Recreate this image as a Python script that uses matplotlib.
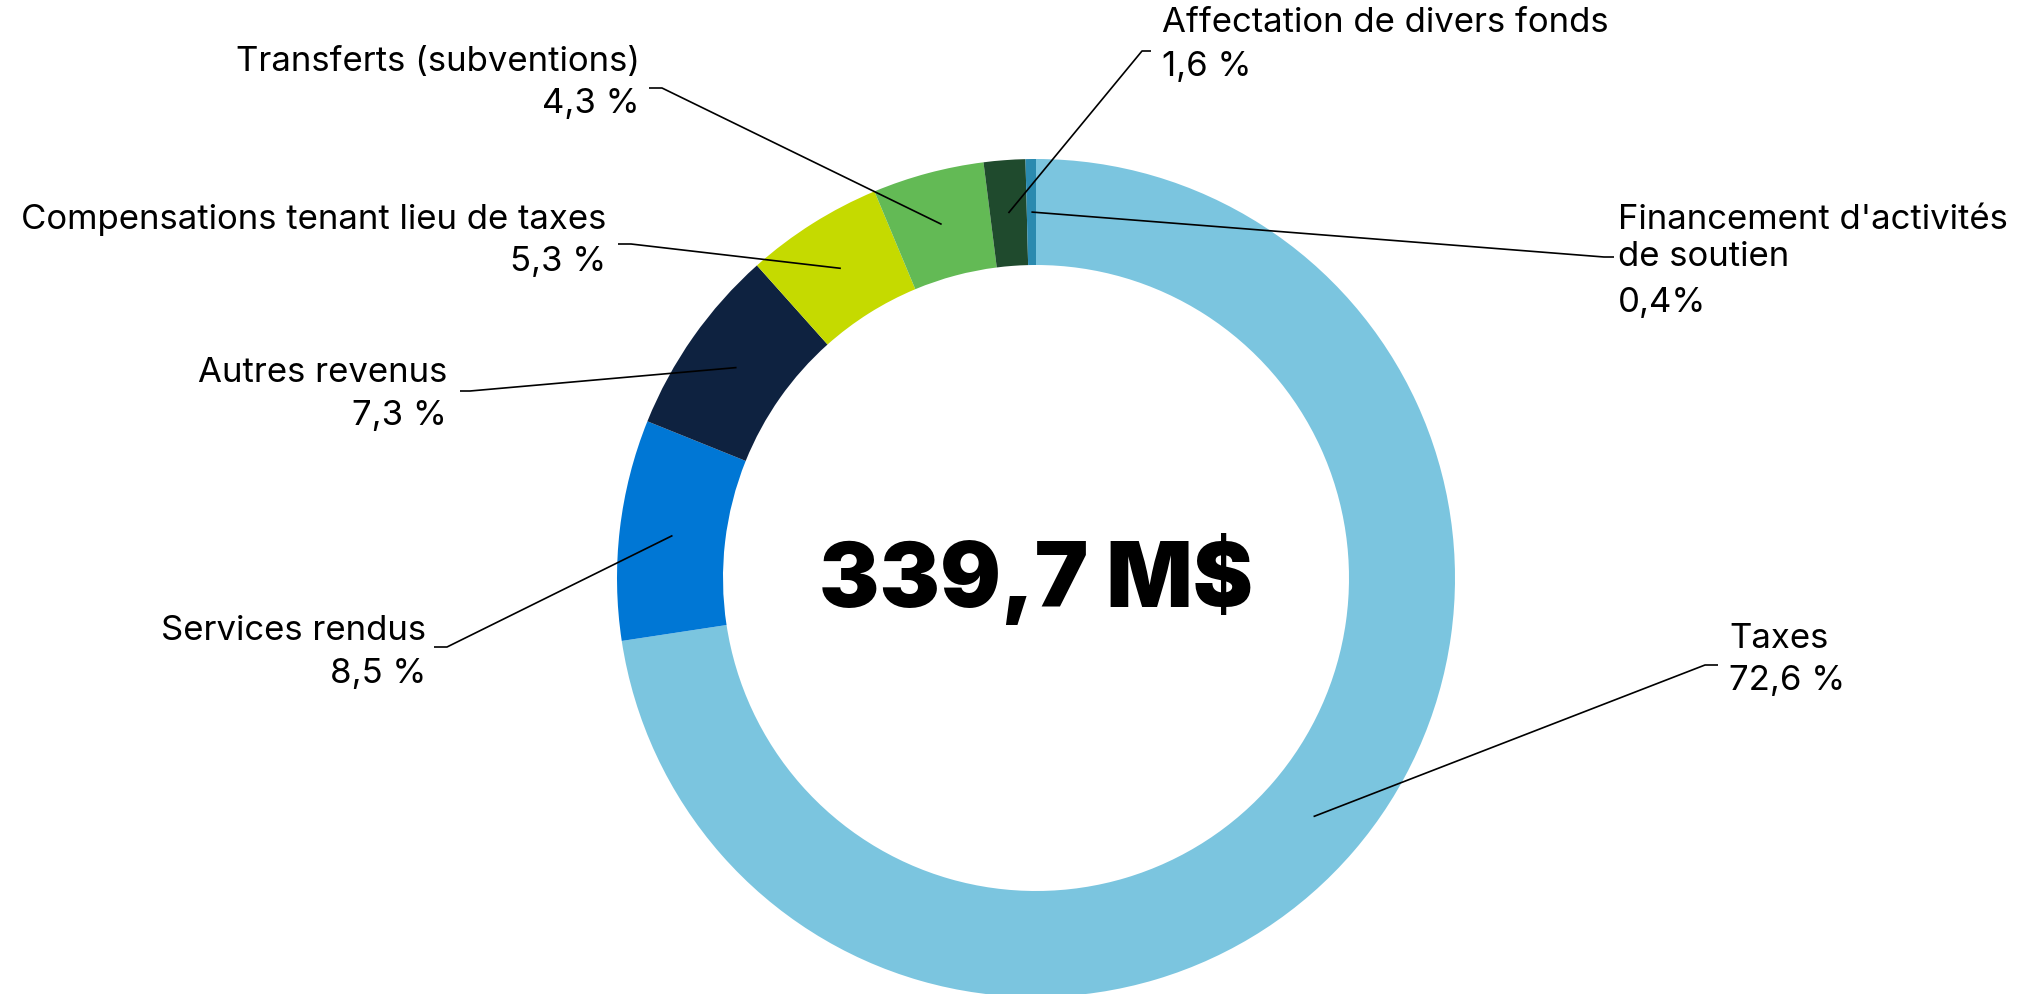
import numpy as np
import matplotlib.pyplot as plt

W, H = 2031, 995

categories = ["Taxes", "Services rendus", "Autres revenus",
              "Compensations tenant lieu de taxes", "Transferts (subventions)",
              "Affectation de divers fonds", "Financement d'activités\nde soutien"]
values = [72.6, 8.5, 7.3, 5.3, 4.3, 1.6, 0.4]
pct_labels = ["72,6 %", "8,5 %", "7,3 %", "5,3 %", "4,3 %", "1,6 %", "0,4%"]
colors = ["#7BC5DF", "#0077D5", "#0E2240", "#C5DA00", "#63BA55", "#1F4A2D", "#2B8AAF"]
total_label = "339,7 M$"

# layout (image pixel coords, y down): text x, name y, pct y, align, elbow, tick end
layout = [
    (1729, 639, 681, "left", (1705, 666), (1718, 666)),
    (426, 631, 674, "right", (447, 648), (434, 648)),
    (447, 373, 416, "right", (470, 392), (460, 392)),
    (606, 220, 262, "right", (631, 245), (618, 245)),
    (640, 62, 104, "right", (662, 89), (649, 89)),
    (1162, 23, 67, "left", (1142, 52), (1151, 52)),
    (1618, 239, 303, "left", (1604, 258), (1614, 258)),
]

cx, cy = 1036, H - 579
r_out, ring = 419, 106

plt.rcParams["font.family"] = ["Inter", "DejaVu Sans"]
fig = plt.figure(figsize=(W / 100, H / 100), dpi=100)
ax = fig.add_axes([0, 0, 1, 1])

wedges, _ = ax.pie(values, colors=colors, startangle=90, counterclock=False,
                   radius=r_out, center=(cx, cy),
                   wedgeprops=dict(width=ring, edgecolor="none"))
ax.set_xlim(0, W)
ax.set_ylim(0, H)
ax.set_aspect("equal")
ax.axis("off")

r_mid = r_out - ring / 2
for w, name, pct, (tx, ny, py, ha, elbow, tick) in zip(wedges, categories, pct_labels, layout):
    mid = np.deg2rad((w.theta1 + w.theta2) / 2)
    ax0 = cx + r_mid * np.cos(mid)
    ay0 = cy + r_mid * np.sin(mid)
    ax.plot([ax0, elbow[0], tick[0]], [ay0, H - elbow[1], H - tick[1]],
            color="black", lw=1.2, solid_capstyle="butt")
    ax.text(tx, H - ny, name, ha=ha, va="center", fontsize=25, color="black",
            linespacing=1.2)
    ax.text(tx, H - py, pct, ha=ha, va="center", fontsize=25, color="black")

ax.text(cx, cy, total_label, ha="center", va="center", fontsize=65,
        fontweight="black", color="black")

fig.savefig("out.png", dpi=100)
